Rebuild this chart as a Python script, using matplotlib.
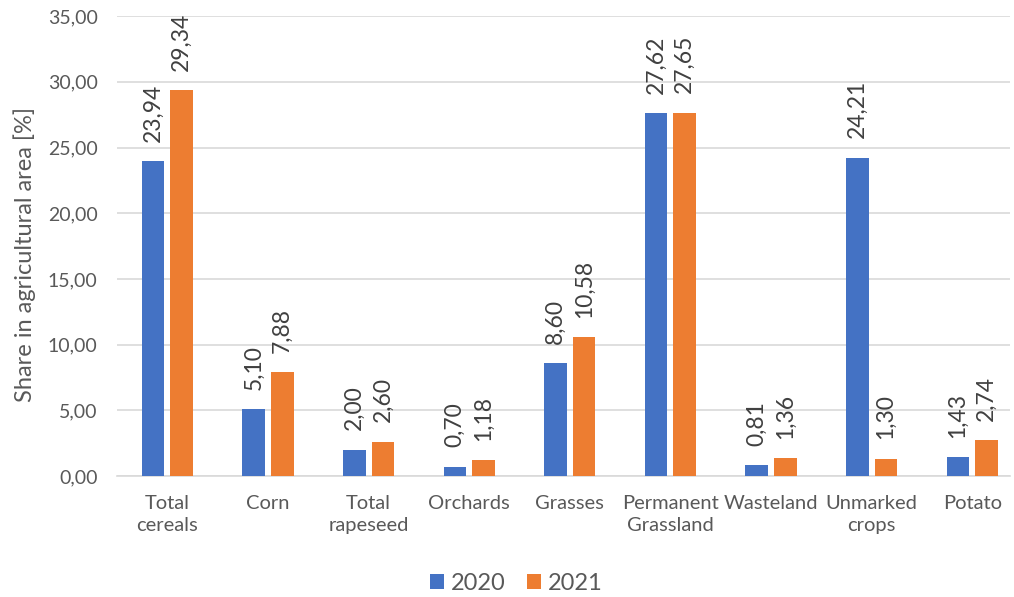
import matplotlib.pyplot as plt
import numpy as np

plt.rcParams['font.family'] = ['Lato', 'DejaVu Sans']
text_color = '#595959'

categories = ['Total\ncereals', 'Corn', 'Total\nrapeseed', 'Orchards', 'Grasses',
              'Permanent\nGrassland', 'Wasteland', 'Unmarked\ncrops', 'Potato']
share_2020 = [23.94, 5.10, 2.00, 0.70, 8.60, 27.62, 0.81, 24.21, 1.43]
share_2021 = [29.34, 7.88, 2.60, 1.18, 10.58, 27.65, 1.36, 1.30, 2.74]
years = ['2020', '2021']
colors = ['#4472C4', '#ED7D31']

fig = plt.figure(figsize=(10.14, 5.97), dpi=100)
ax = fig.add_axes([0.1154, 0.2027, 0.8806, 0.7703])

x = np.arange(len(categories))
width = 0.225
offset = 0.142

for vals, off, col, yr in zip([share_2020, share_2021], [-offset, offset], colors, years):
    bars = ax.bar(x + off, vals, width, color=col, label=yr, zorder=3)
    for b, v in zip(bars, vals):
        ax.annotate(f'{v:.2f}'.replace('.', ','), (b.get_x() + b.get_width() / 2, v),
                    xytext=(0, 14), textcoords='offset points', rotation=90,
                    ha='center', va='bottom', fontsize=16.5, color='#404040')

ax.set_xlim(-0.5, 8.375)
ax.set_ylim(0, 35)
ax.set_yticks(np.arange(0, 36, 5))
ax.set_yticklabels([f'{t:.2f}'.replace('.', ',') for t in np.arange(0, 36, 5)])
ax.set_xticks(x)
ax.set_xticklabels(categories, linespacing=1.35)

ax.grid(axis='y', color='#d9d9d9', linewidth=1.2, zorder=0)
for s in ['top', 'right', 'left']:
    ax.spines[s].set_visible(False)
ax.spines['bottom'].set_color('#d9d9d9')
ax.spines['bottom'].set_linewidth(1.2)
ax.tick_params(axis='both', length=0, colors=text_color)
ax.tick_params(axis='x', labelsize=14.5, pad=13.5)
ax.tick_params(axis='y', labelsize=14, pad=14)

# y label placed directly so its centre sits where the reference has it
fig.text(0.0247, 0.5745, 'Share in agricultural area [%]', rotation=90,
         ha='center', va='center', fontsize=17, color=text_color)

leg = fig.legend(loc='center', bbox_to_anchor=(0.509, 0.023), ncol=2, frameon=False,
                 fontsize=17, handlelength=0.6, handleheight=0.6, handletextpad=0.3,
                 columnspacing=0.9)
for t in leg.get_texts():
    t.set_color(text_color)

fig.savefig('out.png', dpi=100)
